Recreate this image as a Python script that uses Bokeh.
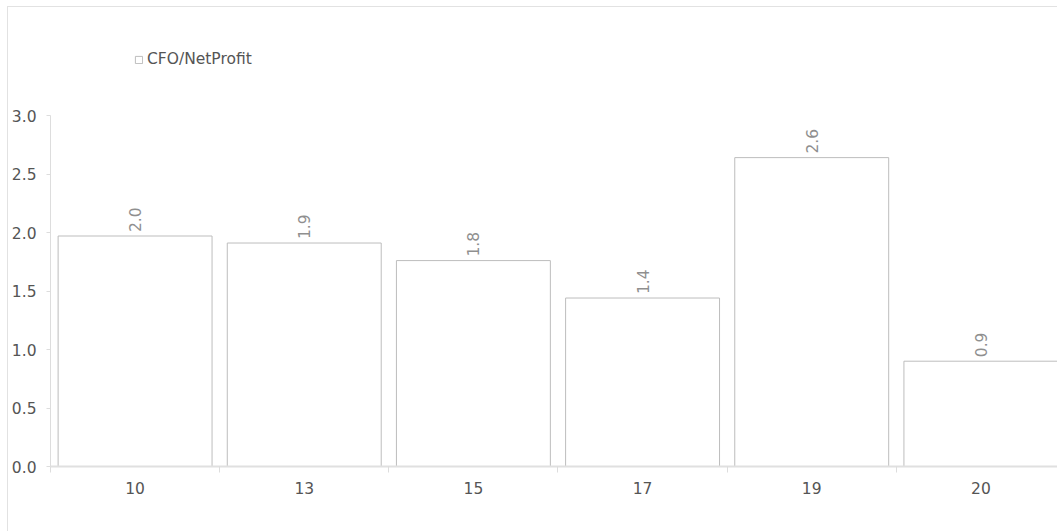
from bokeh.plotting import figure
from bokeh.models import ColumnDataSource, Range1d, FixedTicker, Legend, LegendItem, NumeralTickFormatter
from bokeh.core.properties import value
from bokeh.embed import file_html
from bokeh.resources import INLINE
import math

categories = ["10", "13", "15", "17", "19", "20"]
cfo_net_profit = [1.97, 1.91, 1.76, 1.44, 2.64, 0.90]
label_texts = [f"{v:.1f}" for v in cfo_net_profit]
y_ticks = [0, 0.5, 1.0, 1.5, 2.0, 2.5, 3.0]

FONT = "DejaVu Sans"
FS = "15.5px"
xs = list(range(len(categories)))
src = ColumnDataSource(dict(x=xs, top=cfo_net_profit, lbl=label_texts))

p = figure(width=1050, height=525, output_backend="svg", toolbar_location=None,
           x_range=Range1d(-0.5, -0.5 + 1009 / 169.33), y_range=Range1d(0, 3.0 + 95 / 117),
           min_border_left=41, min_border_right=0, min_border_top=13, min_border_bottom=66,
           outline_line_color=None, background_fill_color="white", border_fill_color="white")
p.styles = {"margin-left": "7px", "margin-top": "6px",
            "border-left": "1px solid #e2e2e2", "border-top": "1px solid #e2e2e2"}
p.xgrid.visible = False
p.ygrid.visible = False

bars = p.vbar(x="x", top="top", width=0.91, bottom=0, source=src,
              fill_color="white", line_color="#bdbdbd", line_width=1)

p.text(x="x", y="top", text="lbl", source=src, angle=math.pi / 2,
       text_align="left", text_baseline="middle", y_offset=-4,
       text_font=value(FONT), text_font_size=FS, text_color="#8f8f8f")

xa = p.xaxis[0]
xa.ticker = FixedTicker(ticks=xs, minor_ticks=[i - 0.5 for i in range(len(categories) + 1)])
xa.major_label_overrides = {i: c for i, c in enumerate(categories)}
xa.major_tick_line_color = None
xa.minor_tick_line_color = "#dddddd"
xa.minor_tick_in = 0
xa.minor_tick_out = 6
xa.axis_line_color = "#e0e0e0"
xa.axis_line_width = 2
xa.major_label_standoff = 9
xa.major_label_text_font = FONT
xa.major_label_text_font_size = FS
xa.major_label_text_color = "#555555"

ya = p.yaxis[0]
ya.ticker = FixedTicker(ticks=y_ticks)
ya.bounds = (y_ticks[0], y_ticks[-1])
ya.formatter = NumeralTickFormatter(format="0.0")
ya.minor_tick_line_color = None
ya.major_tick_in = 0
ya.major_tick_out = 4
ya.major_tick_line_color = "#dddddd"
ya.axis_line_color = "#dddddd"
ya.major_label_standoff = 10
ya.major_label_text_font = FONT
ya.major_label_text_font_size = FS
ya.major_label_text_color = "#555555"

legend = Legend(items=[LegendItem(label="CFO/NetProfit", renderers=[bars])],
                location=(84, 398), padding=0, margin=0, spacing=0,
                glyph_width=9, glyph_height=9, label_standoff=4,
                label_text_font=FONT, label_text_font_size=FS, label_text_color="#555555",
                border_line_color=None, background_fill_alpha=0)
p.add_layout(legend, "center")

open("out.html", "w").write(file_html(p, INLINE))
